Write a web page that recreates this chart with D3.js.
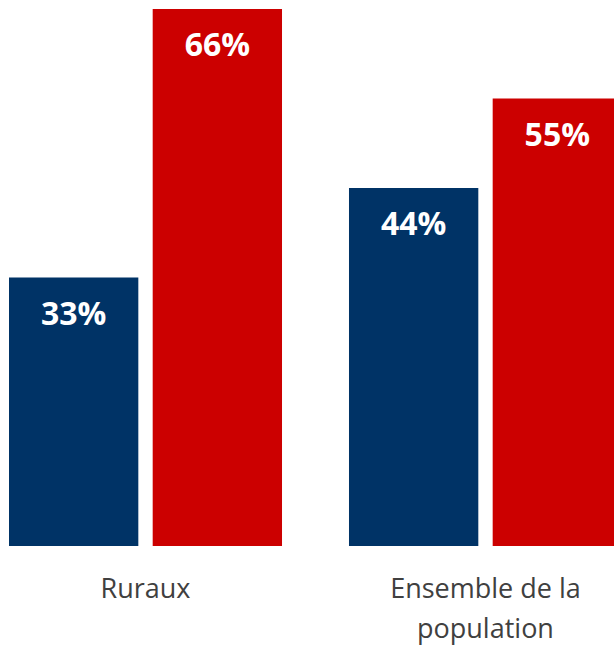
<!DOCTYPE html>
<html>
<head>
<meta charset="utf-8">
<script src="https://cdn.jsdelivr.net/npm/d3@7"></script>
<style>
  body { margin: 0; background: #fff; }
  svg { display: block; }
</style>
</head>
<body>
<div id="chart"></div>
<script>
const categories = ["Ruraux", "Ensemble de la population"];
const categoryLines = [["Ruraux"], ["Ensemble de la", "population"]];
const series = ["s1", "s2"];
const valuesS1 = [33, 44];
const valuesS2 = [66, 55];
const colors = ["#003366", "#CC0000"];

const width = 614, height = 645;
const baseline = 546;

const svg = d3.select("#chart")
  .append("svg")
  .attr("width", width)
  .attr("height", height);

const x0 = d3.scaleBand()
  .domain(categories)
  .range([9, 622])
  .paddingInner(0.197);

const x1 = d3.scaleBand()
  .domain(series)
  .range([0, x0.bandwidth()])
  .paddingInner(0.1);

const y = d3.scaleLinear()
  .domain([0, 66])
  .range([baseline, 9]);

const rows = categories.map((c, i) => ({
  cat: c,
  vals: [
    { key: "s1", v: valuesS1[i], color: colors[0] },
    { key: "s2", v: valuesS2[i], color: colors[1] }
  ]
}));

const groups = svg.append("g").selectAll("g")
  .data(rows)
  .join("g")
  .attr("transform", d => `translate(${x0(d.cat)},0)`);

groups.selectAll("rect")
  .data(d => d.vals)
  .join("rect")
  .attr("x", d => x1(d.key))
  .attr("y", d => y(d.v))
  .attr("width", x1.bandwidth())
  .attr("height", d => baseline - y(d.v))
  .attr("fill", d => d.color);

// value labels inside bars
groups.selectAll("text.val")
  .data(d => d.vals)
  .join("text")
  .attr("class", "val")
  .attr("x", d => x1(d.key) + x1.bandwidth() / 2)
  .attr("y", d => y(d.v) + 47)
  .attr("text-anchor", "middle")
  .attr("fill", "#fff")
  .attr("font-family", "'Open Sans', sans-serif")
  .attr("font-weight", 700)
  .attr("font-size", "32px")
  .text(d => d.v + "%");

// category labels
const catLabels = svg.append("g").selectAll("text")
  .data(categories)
  .join("text")
  .attr("x", d => x0(d) + x0.bandwidth() / 2)
  .attr("y", 598)
  .attr("text-anchor", "middle")
  .attr("fill", "#404040")
  .attr("font-family", "'Open Sans', sans-serif")
  .attr("font-size", "27px");

catLabels.selectAll("tspan")
  .data((d, i) => categoryLines[i])
  .join("tspan")
  .attr("x", function () { return d3.select(this.parentNode).attr("x"); })
  .attr("dy", (d, i) => i === 0 ? 0 : 40)
  .text(d => d);
</script>
</body>
</html>
